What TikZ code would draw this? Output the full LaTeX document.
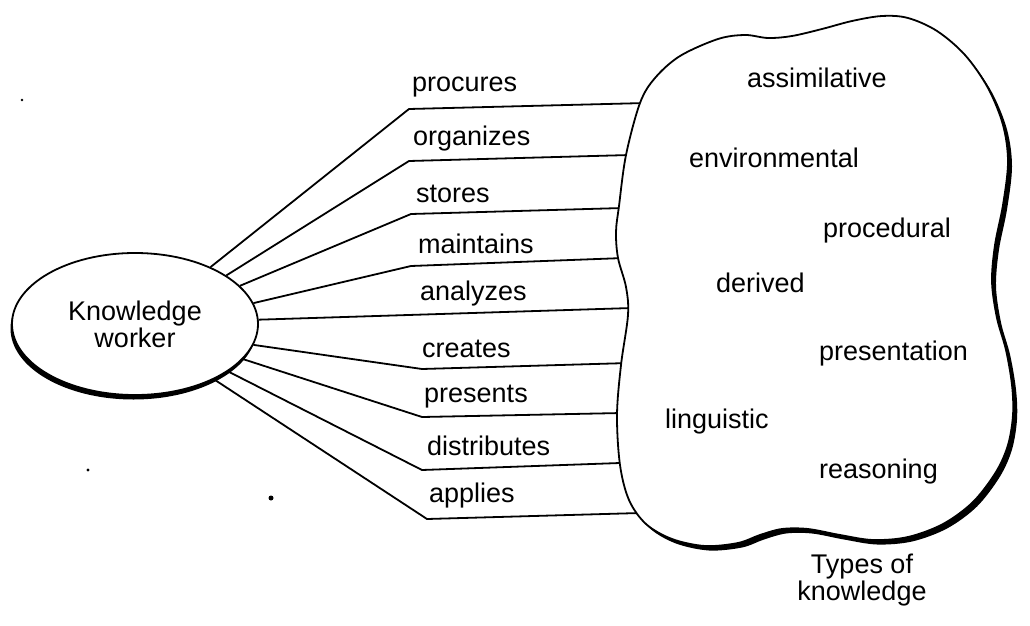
\documentclass[tikz,border=0pt]{standalone}
\usepackage{fontspec}
\setmainfont{Liberation Sans}
\usetikzlibrary{shapes.geometric}
\begin{document}
\begin{tikzpicture}[x=1pt,y=-1pt,
  wire/.style={line width=1.8pt, line join=round},
  rim/.style={line width=1.8pt},
  verb/.style={anchor=base west, inner sep=0pt, font=\fontsize{27}{30}\selectfont},
  kind/.style={anchor=base west, inner sep=0pt, font=\fontsize{27}{30}\selectfont},
  speck/.style={fill=black}]
\useasboundingbox (0,0) rectangle (1030,626);

% heavy lower rim of the worker ellipse
\fill (133.5,328.5) ellipse [x radius=123, y radius=71];
\node[ellipse, draw, rim, fill=white, minimum width=246pt, minimum height=142pt,
      inner sep=0pt, align=center, font=\fontsize{27}{27}\selectfont] (kw) at (135,324)
      {Knowledge\\worker};

% activity links: ellipse -> bend -> knowledge region
\coordinate (k1) at (409,109); \coordinate (e1) at (646,103);
\coordinate (k2) at (409,161); \coordinate (e2) at (630,155);
\coordinate (k3) at (411,214); \coordinate (e3) at (623,208);
\coordinate (k4) at (411,266); \coordinate (e4) at (624,258);
\coordinate (e5) at (632,308);
\coordinate (k6) at (422,369); \coordinate (e6) at (629,363);
\coordinate (k7) at (422,417); \coordinate (e7) at (622,413);
\coordinate (k8) at (422,470); \coordinate (e8) at (620,463);
\coordinate (k9) at (427,519); \coordinate (e9) at (640,513);

\draw[wire] (kw.37) -- (k1) -- (e1);
\draw[wire] (kw.28) -- (k2) -- (e2);
\draw[wire] (kw.20) -- (k3) -- (e3);
\draw[wire] (kw.10) -- (k4) -- (e4);
\draw[wire] (kw.2) -- (e5);
\draw[wire] (kw.-10) -- (k6) -- (e6);
\draw[wire] (kw.-18) -- (k7) -- (e7);
\draw[wire] (kw.-27) -- (k8) -- (e8);
\draw[wire] (kw.-35) -- (k9) -- (e9);

\node[verb] (procures)    at (412,91)  {procures};
\node[verb] (organizes)   at (413,145) {organizes};
\node[verb] (stores)      at (416,202) {stores};
\node[verb] (maintains)   at (418,253) {maintains};
\node[verb] (analyzes)    at (420,300) {analyzes};
\node[verb] (creates)     at (422,357) {creates};
\node[verb] (presents)    at (424,402) {presents};
\node[verb] (distributes) at (427,455) {distributes};
\node[verb] (applies)     at (429,502) {applies};

% knowledge region outline
\def\blobpts{(640,103) (655,78) (680,56) (718,39) (745,35) (768,38) (792,36)
  (822,29) (852,21) (882,16) (908,18) (937,31) (965,55) (988,88) (1003,125)
  (1008,162) (1003,205) (995,245) (992,282) (997,318) (1006,350) (1012,385)
  (1013,415) (1008,445) (996,472) (973,502) (943,524) (908,537) (873,540)
  (840,535) (808,529) (782,529) (760,535) (738,543) (705,546) (672,539)
  (646,524) (629,500) (620,465) (617,415) (621,365) (628,315) (626,287)
  (618,258) (616,232) (619,206) (626,155)}
\fill[shift={(4,4.5)}] plot[smooth cycle, tension=0.55] coordinates {\blobpts};
\filldraw[rim, fill=white] plot[smooth cycle, tension=0.55] coordinates {\blobpts};

\node[kind] (assim)   at (747,88)  {assimilative};
\node[kind] (environ) at (689,167) {environmental};
\node[kind] (proced)  at (823,237) {procedural};
\node[kind] (derived) at (716,292) {derived};
\node[kind] (present) at (819,360) {presentation};
\node[kind] (ling)    at (665,428) {linguistic};
\node[kind] (reason)  at (819,478) {reasoning};

\node[align=center, inner sep=0pt, font=\fontsize{27}{23}\selectfont] (types) at (862,580)
  {Types of\\knowledge};

% specks
\fill[speck] (271,498) circle [radius=2.5];
\fill[speck] (22,100) circle [radius=1.3];
\fill[speck] (88,470) circle [radius=1.6];
\end{tikzpicture}
\end{document}
